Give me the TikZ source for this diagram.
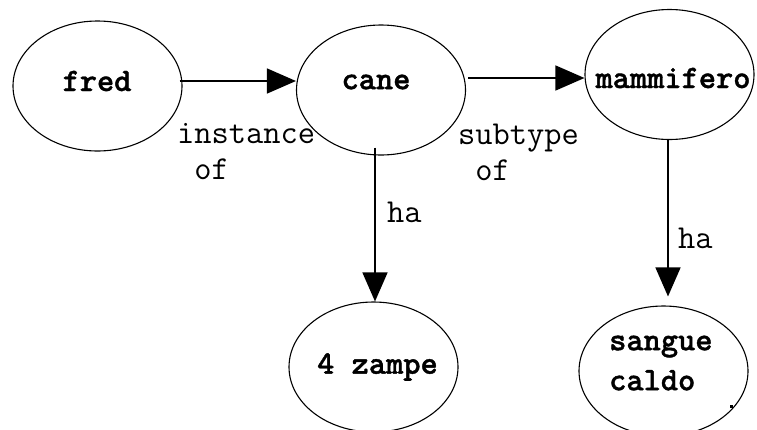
\documentclass[tikz,border=0pt]{standalone}
\usepackage{fontspec}
\newfontfamily\nodefont[FakeBold=1.2]{lmmonolt10-bold.otf}
\usetikzlibrary{arrows.meta,shapes.geometric}
\tikzset{
  ell/.style={draw,ellipse,line width=1.1pt,minimum width=169pt,minimum height=130pt,inner sep=0pt},
  nodetext/.style={font=\fontsize{32.8}{40}\selectfont\nodefont,inner sep=0pt,align=left},
  lbl/.style={font=\fontsize{33.5}{36}\selectfont\ttfamily,inner sep=0pt,align=left},
  arr/.style={line width=1.4pt,-{Triangle[length=29pt,width=25pt]}}
}
\begin{document}
\begin{tikzpicture}[x=1pt,y=-1pt]
\useasboundingbox (0,0) rectangle (757,429);
\node[ell] (fred) at (97.5,86) {};
\node[ell] (cane) at (381,90) {};
\node[ell] (mamm) at (669.5,74.5) {};
\node[ell] (zampe) at (373.5,367) {};
\node[ell] (sangue) at (663.5,371) {};
\node[nodetext] (tfred) at (97,81) {fred};
\node[nodetext] (tcane) at (376,82) {cane};
\node[nodetext] (tmamm) at (673,78) {mammifero};
\node[nodetext] (tzampe) at (377.5,367) {4 zampe};
\node[nodetext,anchor=west] (tsangue) at (609,363) {sangue\\caldo};
\draw[arr] ([xshift=-3pt,yshift=5pt]fred.east) -- ([yshift=9pt]cane.west);
\draw[arr] ([xshift=2pt,yshift=12pt]cane.east) -- ([yshift=-3.5pt]mamm.west);
\draw[arr] ([xshift=-6pt,yshift=8pt]cane.south) -- ([xshift=1.5pt]zampe.north);
\draw[arr] ([xshift=-1.5pt]mamm.south) -- ([xshift=4.5pt,yshift=9pt]sangue.north);
\node[lbl,anchor=west] (l1) at (177,152) {instance\\\ of};
\node[lbl,anchor=west] (l2) at (458,152) {subtype\\\ of};
\node[lbl,anchor=west] (l3) at (387,212) {ha};
\node[lbl,anchor=west] (l4) at (678,238) {ha};
\fill (729.5,404.5) rectangle (732.5,407.5);
\end{tikzpicture}
\end{document}
